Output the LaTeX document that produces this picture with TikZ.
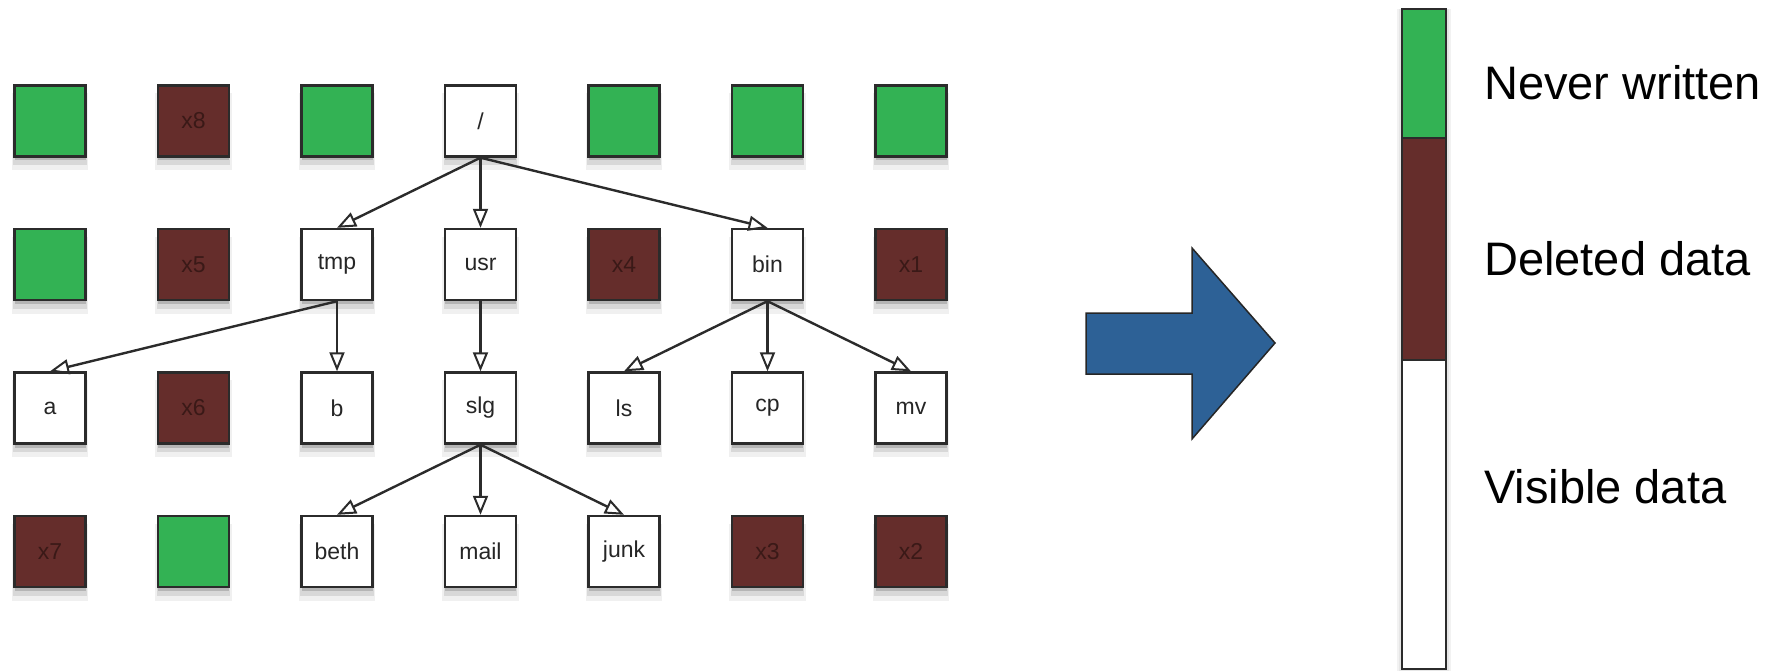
\documentclass[tikz,border=0pt]{standalone}
\usepackage{fontspec}
\setmainfont{Liberation Sans}
\usetikzlibrary{arrows.meta,shadows}
\definecolor{fsgreen}{HTML}{33B254}
\definecolor{fsbrown}{HTML}{652D2B}
\definecolor{fsbrowntext}{HTML}{3A1917}
\definecolor{fsblue}{HTML}{2D6196}
\definecolor{fsborder}{HTML}{2B2B2B}
\begin{document}
\begin{tikzpicture}[x=1pt,y=-1pt,
  shadowed/.style={
    drop shadow={shadow xshift=0pt,shadow yshift=-4pt,opacity=.16,fill=black},
    drop shadow={shadow xshift=0pt,shadow yshift=-7pt,shadow scale=1.04,opacity=.10,fill=black},
    drop shadow={shadow xshift=0pt,shadow yshift=-10pt,shadow scale=1.08,opacity=.06,fill=black}},
  blk/.style={draw=fsborder, line width=2.4pt, minimum width=71pt, minimum height=71pt,
    inner sep=0pt, shadowed, font=\fontsize{23}{27}\selectfont},
  dirbox/.style={blk, fill=white, text=black!85},
  freebox/.style={blk, fill=fsgreen},
  delbox/.style={blk, fill=fsbrown, text=fsbrowntext},
  treeedge/.style={line width=2.4pt, draw=fsborder,
    -{Triangle[open,length=19pt,width=15pt,line width=2pt]}},
  legend/.style={anchor=base west, inner sep=0pt, font=\fontsize{47}{56}\selectfont}
]
\useasboundingbox (0,0) rectangle (1783,671);

% row 1
\node[freebox] (g11) at (50,121) {};
\node[delbox]  (x8)  at (193.5,121) {x8};
\node[freebox] (g13) at (337,121) {};
\node[dirbox]  (root) at (480.5,121) {/};
\node[freebox] (g15) at (624,121) {};
\node[freebox] (g16) at (767.5,121) {};
\node[freebox] (g17) at (911,121) {};
% row 2
\node[freebox] (g21) at (50,264.5) {};
\node[delbox]  (x5)  at (193.5,264.5) {x5};
\node[dirbox]  (tmp) at (337,264.5) {tmp};
\node[dirbox]  (usr) at (480.5,264.5) {usr};
\node[delbox]  (x4)  at (624,264.5) {x4};
\node[dirbox]  (bin) at (767.5,264.5) {bin};
\node[delbox]  (x1)  at (911,264.5) {x1};
% row 3
\node[dirbox]  (a)   at (50,408) {a};
\node[delbox]  (x6)  at (193.5,408) {x6};
\node[dirbox]  (b)   at (337,408) {b};
\node[dirbox]  (slg) at (480.5,408) {slg};
\node[dirbox]  (ls)  at (624,408) {ls};
\node[dirbox]  (cp)  at (767.5,408) {cp};
\node[dirbox]  (mv)  at (911,408) {mv};
% row 4
\node[delbox]  (x7)  at (50,551.5) {x7};
\node[freebox] (g42) at (193.5,551.5) {};
\node[dirbox]  (beth) at (337,551.5) {beth};
\node[dirbox]  (mail) at (480.5,551.5) {mail};
\node[dirbox]  (junk) at (624,551.5) {junk};
\node[delbox]  (x3)  at (767.5,551.5) {x3};
\node[delbox]  (x2)  at (911,551.5) {x2};

% tree edges
\draw[treeedge] (root.south) -- (tmp.north);
\draw[treeedge] (root.south) -- (usr.north);
\draw[treeedge] (root.south) -- (bin.north);
\draw[treeedge] (tmp.south) -- (a.north);
\draw[treeedge] (tmp.south) -- (b.north);
\draw[treeedge] (usr.south) -- (slg.north);
\draw[treeedge] (bin.south) -- (ls.north);
\draw[treeedge] (bin.south) -- (cp.north);
\draw[treeedge] (bin.south) -- (mv.north);
\draw[treeedge] (slg.south) -- (beth.north);
\draw[treeedge] (slg.south) -- (mail.north);
\draw[treeedge] (slg.south) -- (junk.north);

% big blue arrow
\draw[fill=fsblue, draw=black!85, line width=1.5pt, line join=miter]
  (1086,313) -- (1192,313) -- (1192,248) -- (1275,343) -- (1192,439)
  -- (1192,374) -- (1086,374) -- cycle;

% bar with soft shadow
\fill[black, opacity=.05] (1397,9) rectangle (1451,674);
\fill[black, opacity=.05] (1399,9) rectangle (1449,672);
\fill[fsgreen] (1402,9) rectangle (1446,138);
\fill[fsbrown] (1402,138) rectangle (1446,360);
\fill[white] (1402,360) rectangle (1446,669);
\draw[fsborder, line width=1.5pt] (1402,138) -- (1446,138);
\draw[fsborder, line width=1.5pt] (1402,360) -- (1446,360);
\draw[fsborder, line width=2.5pt] (1402,9) rectangle (1446,669);

% legend texts
\node[legend] (lnever) at (1484,100) {Never written};
\node[legend] (ldel) at (1484,275) {Deleted data};
\node[legend] (lvis) at (1484,503) {Visible data};
\end{tikzpicture}
\end{document}
